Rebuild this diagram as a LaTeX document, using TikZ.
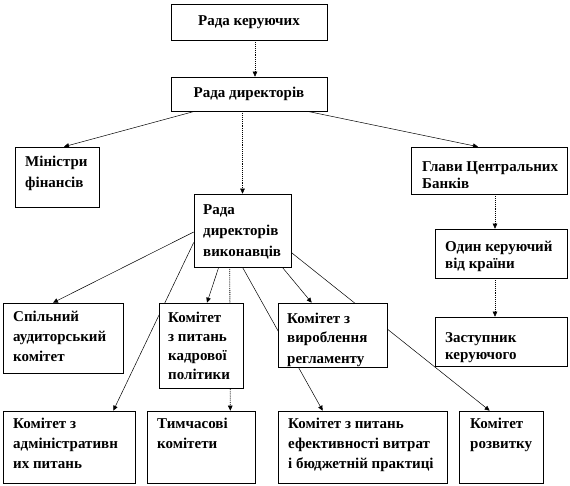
\documentclass[tikz,border=0pt]{standalone}
\usepackage{fontspec}
\setmainfont{Liberation Serif}
\usetikzlibrary{arrows.meta}
\pgfdeclarelayer{bg}
\pgfsetlayers{bg,main}
\tikzset{
  box/.style={draw=black, line width=0.6pt, fill=white, inner sep=0pt},
  lbl/.style={anchor=base west, inner sep=0pt, font=\fontsize{15}{20}\selectfont\bfseries},
  ctr/.style={font=\fontsize{15}{20}\selectfont\bfseries},
  conn/.style={line width=0.5pt, -{Triangle[length=5pt,width=4.5pt]}},
  vconn/.style={line width=0.9pt, densely dotted, -{Triangle[length=5pt,width=4.5pt,line width=0.5pt]}}
}
\newcommand\mybox[8]{%
  \node[box, minimum width=#4pt, minimum height=#5pt] (#1) at ({#2+#4/2},{#3+#5/2}) {};
  \node[lbl] (#1-t) at (#6,#7) {\parbox[t]{220pt}{#8}};}
\begin{document}
\begin{tikzpicture}[x=1pt,y=-1pt]
\useasboundingbox (0,0) rectangle (570,486);
% top boxes
\node[box, ctr, minimum width=156pt, minimum height=36pt] (rk) at (249,22) {Рада керуючих};
\node[box, ctr, minimum width=156pt, minimum height=34pt] (rd) at (249,94) {Рада директорів};
\mybox{mf}{15}{147}{84}{60}{25}{167}{\fontsize{15}{21}\selectfont Міністри\\ фінансів}
\mybox{rdv}{194}{194}{97}{73}{203}{215}{\fontsize{15}{21}\selectfont Рада\\ директорів\\ виконавців}
\mybox{gcb}{411}{147}{156}{47}{422}{172}{\fontsize{15}{17}\selectfont Глави Центральних\\ Банків}
\mybox{ok}{435}{229}{132}{49}{445}{252}{\fontsize{15}{17}\selectfont Один керуючий\\ від країни}
\mybox{zk}{435}{317}{132}{49}{445}{342}{\fontsize{15}{17}\selectfont Заступник\\ керуючого}
\mybox{vr}{278}{303}{109}{64}{287}{323}{Комітет з\\ вироблення\\ регламенту}
\mybox{sak}{3}{303}{120}{70}{13}{321}{Спільний\\ аудиторський\\ комітет}
\mybox{kp}{159}{303}{84}{85}{168}{322}{\fontsize{15}{19}\selectfont Комітет\\ з питань\\ кадрової\\ політики}
\mybox{adm}{3}{411}{132}{72}{13}{428}{Комітет з\\ адміністративн\\ их питань}
\mybox{tk}{147}{411}{108}{72}{157}{428}{Тимчасові\\ комітети}
\mybox{ef}{278}{411}{169}{72}{288}{428}{Комітет з питань\\ ефективності витрат\\ і бюджетній практиці}
\mybox{rz}{459}{411}{84}{72}{470}{428}{Комітет\\ розвитку}
\begin{pgfonlayer}{bg}
\draw[vconn] ([xshift=6pt]rk.south) -- ([xshift=6pt]rd.north);
\draw[conn] ([xshift=24pt]rd.south west) -- ([xshift=7pt]mf.north);
\draw[vconn] (rd.south -| rdv.north) -- (rdv.north);
\draw[conn] ([xshift=-20pt]rd.south east) -- ([xshift=-11pt]gcb.north);
\draw[vconn] ([xshift=6pt]gcb.south) -- ([xshift=-6pt]ok.north);
\draw[vconn] ([xshift=-6pt]ok.south) -- ([xshift=-6pt]zk.north);
\draw[conn] ([yshift=-1.5pt]rdv.west) -- ([xshift=-10pt]sak.north);
\draw[conn] ([yshift=-12pt]rdv.west) -- ([xshift=-22pt]adm.north east);
\draw[conn] ([xshift=25pt]rdv.south west) -- ([xshift=6pt]kp.north);
\draw[vconn] ([xshift=36pt]rdv.south west) -- ([xshift=-25pt]tk.north east);
\draw[conn] (rdv.south) -- ([xshift=45pt]ef.north west);
\draw[conn] ([xshift=-9pt]rdv.south east) -- ([xshift=34pt]vr.north west);
\draw[conn] ([yshift=-22pt]rdv.east) -- ([xshift=31pt]rz.north west);
\end{pgfonlayer}
\end{tikzpicture}
\end{document}
